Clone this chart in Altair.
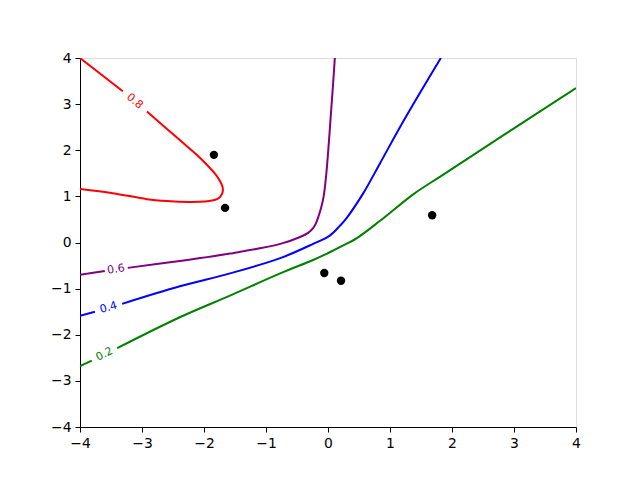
import altair as alt
import pandas as pd

# Contour lines (probability levels), split into segments around the labels
red_seg0_x = [-4.0, -3.31]
red_seg0_y = [4.0, 3.28]
red_seg1_x = [-2.92, -2.39, -2.1, -1.95, -1.82, -1.74, -1.70, -1.70, -1.74, -1.79, -1.87, -1.98, -2.23, -2.6, -2.92, -3.47, -4.0]
red_seg1_y = [2.84, 2.22, 1.88, 1.68, 1.49, 1.33, 1.20, 1.09, 0.99, 0.94, 0.91, 0.89, 0.88, 0.90, 0.94, 1.07, 1.16]

purple_seg0_x = [-4.0, -3.60]
purple_seg0_y = [-0.70, -0.62]
purple_seg1_x = [-3.23, -2.39, -1.58, -0.77, -0.45, -0.32, -0.24, -0.19, -0.15, -0.11, -0.07, -0.03, 0.01, 0.05, 0.08, 0.11]
purple_seg1_y = [-0.55, -0.40, -0.24, -0.03, 0.12, 0.21, 0.31, 0.43, 0.58, 0.76, 1.0, 1.45, 2.1, 2.85, 3.4, 4.0]

blue_seg0_x = [-4.0, -3.76]
blue_seg0_y = [-1.59, -1.50]
blue_seg1_x = [-3.32, -2.39, -1.58, -0.77, -0.24, 0.03, 0.19, 0.30, 0.57, 0.84, 1.22, 1.82]
blue_seg1_y = [-1.33, -0.95, -0.67, -0.34, -0.03, 0.15, 0.36, 0.53, 1.07, 1.72, 2.64, 4.0]

green_seg0_x = [-4.0, -3.81]
green_seg0_y = [-2.68, -2.56]
green_seg1_x = [-3.40, -2.39, -1.58, -0.77, -0.24, -0.06, 0.19, 0.46, 0.84, 1.38, 1.81, 2.88, 4.0]
green_seg1_y = [-2.29, -1.62, -1.15, -0.67, -0.38, -0.27, -0.10, 0.09, 0.47, 1.05, 1.43, 2.37, 3.35]

# Contour labels
label_text = ["0.8", "0.6", "0.4", "0.2"]
label_x = [-3.12, -3.42, -3.54, -3.605]
label_y = [3.06, -0.585, -1.415, -2.425]
label_angle = [40, 351, 344, 334]
label_color = ["#ff0000", "#800080", "#0000ff", "#008000"]

# Data points
pts_x = [-1.84, -1.66, -0.06, 0.21, 1.68]
pts_y = [1.90, 0.75, -0.66, -0.83, 0.59]

rows = []
segs = [
    ("0.8", red_seg0_x, red_seg0_y), ("0.8", red_seg1_x, red_seg1_y),
    ("0.6", purple_seg0_x, purple_seg0_y), ("0.6", purple_seg1_x, purple_seg1_y),
    ("0.4", blue_seg0_x, blue_seg0_y), ("0.4", blue_seg1_x, blue_seg1_y),
    ("0.2", green_seg0_x, green_seg0_y), ("0.2", green_seg1_x, green_seg1_y),
]
for si, (lev, xs_, ys_) in enumerate(segs):
    for i, (a, b) in enumerate(zip(xs_, ys_)):
        rows.append({"x": a, "y": b, "level": lev, "seg": si, "order": i})
lines_df = pd.DataFrame(rows)
pts_df = pd.DataFrame({"x": pts_x, "y": pts_y})

xs = alt.Scale(domain=[-4, 4], nice=False, zero=False)
ys = alt.Scale(domain=[-4, 4], nice=False, zero=False)
ticks = [-4, -3, -2, -1, 0, 1, 2, 3, 4]
lab_expr = "replace(format(datum.value, 'd'), '-', '\u2212')"
common_axis = dict(values=ticks, grid=False, title=None, labelExpr=lab_expr,
                   tickSize=5, labelPadding=4, labelFontSize=13.9,
                   labelFont="DejaVu Sans", labelColor="black", tickColor="black",
                   domainColor="black", labelFlush=False)

lines = alt.Chart(lines_df).mark_line(strokeWidth=2, clip=True, interpolate="catmull-rom").encode(
    x=alt.X("x:Q", scale=xs, axis=alt.Axis(**common_axis)),
    y=alt.Y("y:Q", scale=ys, axis=alt.Axis(**common_axis)),
    color=alt.Color("level:N", scale=alt.Scale(domain=["0.8", "0.6", "0.4", "0.2"],
                                               range=label_color), legend=None),
    detail="seg:N",
    order="order:Q",
)

points = alt.Chart(pts_df).mark_circle(size=70, color="black", opacity=1).encode(
    x=alt.X("x:Q", scale=xs),
    y=alt.Y("y:Q", scale=ys),
)

layers = [lines, points]
for t, lx, ly, ang, col in zip(label_text, label_x, label_y, label_angle, label_color):
    d = pd.DataFrame({"x": [lx], "y": [ly], "t": [t]})
    layers.append(
        alt.Chart(d).mark_text(angle=ang, color=col, fontSize=11, font="DejaVu Sans",
                               align="center", baseline="middle").encode(
            x=alt.X("x:Q", scale=xs), y=alt.Y("y:Q", scale=ys), text="t:N")
    )

chart = alt.layer(*layers).properties(
    width=496, height=369,
    autosize=alt.AutoSizeParams(type="none"),
    padding={"left": 72, "top": 50, "right": 56, "bottom": 45},
).configure_view(stroke="black", strokeWidth=1).configure(background="white")

chart.save("out.html", embed_options={"renderer": "svg", "actions": False})
